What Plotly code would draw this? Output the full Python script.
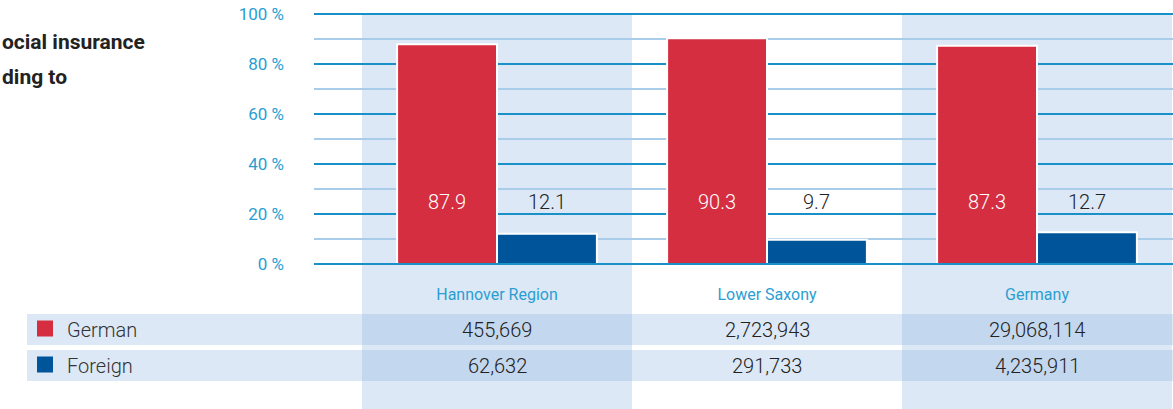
import plotly.graph_objects as go

# ---------------- data ----------------
categories = ["Hannover Region", "Lower Saxony", "Germany"]
series_names = ["German", "Foreign"]
german_pct = [87.9, 90.3, 87.3]
foreign_pct = [12.1, 9.7, 12.7]
german_abs = ["455,669", "2,723,943", "29,068,114"]
foreign_abs = ["62,632", "291,733", "4,235,911"]
y_ticks = [0, 20, 40, 60, 80, 100]
minor_ticks = [10, 30, 50, 70, 90]
title_lines = ["ocial insurance", "ding to"]   # visible part of the (cropped) chart title

# ---------------- layout constants ----------------
W, H = 1173, 409
X0, XS = 497, 270          # pixel of first category centre, pixels per category
Y0, YS = 264, 2.5          # pixel of 0 %, pixels per percent
FONT = "Roboto, sans-serif"
RED = "#d42e40"
BLUE = "#00559a"
TICK_BLUE = "#2a9ed3"
MAJOR = "#1a90c8"
MINOR = "#a9cde8"
SHADE = "rgba(133,175,220,0.29)"
BARGAP = 0.26


def px_x(p):
    return (p - X0) / XS


def px_y(p):
    return (Y0 - p) / YS


def pap_x(p):
    return p / W


def pap_y(p):
    return 1 - p / H


xs = list(range(len(categories)))
fig = go.Figure()
fig.add_trace(go.Bar(x=xs, y=german_pct, name=series_names[0], marker=dict(color=RED, line=dict(color="white", width=2)),
                     hoverinfo="skip"))
fig.add_trace(go.Bar(x=xs, y=foreign_pct, name=series_names[1], marker=dict(color=BLUE, line=dict(color="white", width=2)),
                     hoverinfo="skip"))

shapes = []
# column bands (first and third category)
for k in xs:
    if k % 2 == 0:
        shapes.append(dict(type="rect", xref="x", yref="y", x0=k - 0.5, x1=k + 0.5, y0=px_y(H), y1=100,
                           fillcolor=SHADE, line=dict(width=0), layer="below"))
# table rows
row_tops = [314, 350]
row_h = 31
for rt in row_tops:
    shapes.append(dict(type="rect", xref="paper", yref="paper", x0=pap_x(27), x1=1.0,
                       y0=pap_y(rt + row_h), y1=pap_y(rt), fillcolor=SHADE, line=dict(width=0), layer="below"))
# gridlines
for v in minor_ticks:
    shapes.append(dict(type="line", xref="x", yref="y", x0=px_x(314), x1=px_x(W + 5), y0=v, y1=v,
                       line=dict(color=MINOR, width=2), layer="below"))
for v in y_ticks:
    shapes.append(dict(type="line", xref="x", yref="y", x0=px_x(314), x1=px_x(W + 5), y0=v, y1=v,
                       line=dict(color=MAJOR, width=2), layer="above" if v == 0 else "below"))
# legend squares
for rt, col in zip(row_tops, [RED, BLUE]):
    shapes.append(dict(type="rect", xref="paper", yref="paper", x0=pap_x(37), x1=pap_x(53),
                       y0=pap_y(rt + 22.5), y1=pap_y(rt + 6.5), fillcolor=col, line=dict(width=0)))

annotations = []
off = (1 - BARGAP) / 4
for k in xs:
    annotations.append(dict(x=k - off, y=25, xref="x", yref="y", text=f"{german_pct[k]:.1f}", showarrow=False,
                            font=dict(family=FONT, size=20, color="white", weight=300)))
    annotations.append(dict(x=k + off, y=25, xref="x", yref="y", text=f"{foreign_pct[k]:.1f}", showarrow=False,
                            font=dict(family=FONT, size=20, color="#222222", weight=300)))
    for rt, vals in zip(row_tops, [german_abs, foreign_abs]):
        annotations.append(dict(x=k, y=pap_y(rt + row_h / 2), xref="x", yref="paper", text=vals[k], showarrow=False,
                                font=dict(family=FONT, size=20, color="#222222", weight=300), yanchor="middle"))
for rt, name in zip(row_tops, series_names):
    annotations.append(dict(x=pap_x(65), y=pap_y(rt + row_h / 2), xref="paper", yref="paper", text=name,
                            showarrow=False, xanchor="left", yanchor="middle",
                            font=dict(family=FONT, size=20, color="#333333", weight=300)))
for i, line in enumerate(title_lines):
    annotations.append(dict(x=0, y=pap_y(42 + 35 * i), xref="paper", yref="paper",
                            text=f"<b>{line}</b>", showarrow=False, xanchor="left", yanchor="middle",
                            font=dict(family=FONT, size=21, color="#222222")))

fig.update_layout(
    width=W, height=H,
    margin=dict(l=0, r=0, t=0, b=0, pad=0),
    paper_bgcolor="white", plot_bgcolor="rgba(0,0,0,0)",
    barmode="group", bargap=BARGAP, bargroupgap=0,
    showlegend=False,
    shapes=shapes, annotations=annotations,
    xaxis=dict(range=[px_x(0), px_x(W)], tickvals=xs, ticktext=categories, showgrid=False, zeroline=False,
               showline=False, ticks="", anchor="free", position=pap_y(Y0), ticklabelstandoff=19,
               tickfont=dict(family=FONT, size=16, color=TICK_BLUE), fixedrange=True),
    yaxis=dict(range=[px_y(H), px_y(0)], tickvals=y_ticks, ticktext=[f"{v} %" for v in y_ticks], showgrid=False,
               zeroline=False, showline=False, ticks="", anchor="free", position=pap_x(314),
               ticklabelstandoff=30, tickfont=dict(family=FONT, size=17, color=TICK_BLUE), fixedrange=True),
)

fig.write_html("out.html", config={"displayModeBar": False},
               post_script="document.body.style.margin='0';document.body.style.padding='0';")
